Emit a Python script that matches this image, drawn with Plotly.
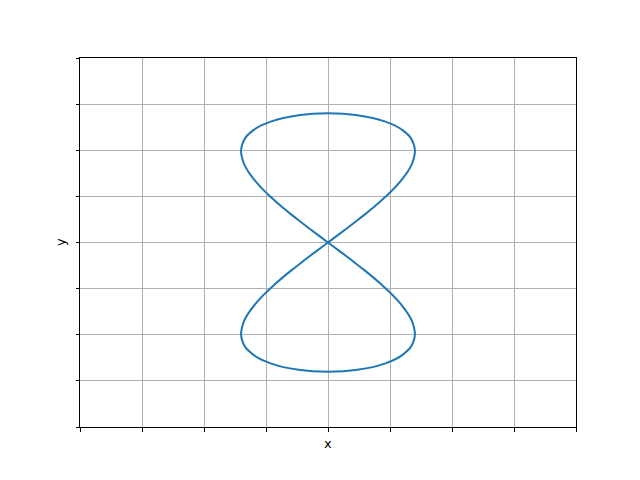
import plotly.graph_objects as go

# points (grid units)
curve_x = [0, 0.479, 0.900, 1.212, 1.379, 1.379, 1.212, 0.900, 0.479,
           0, -0.479, -0.900, -1.212, -1.379, -1.379, -1.212, -0.900, -0.479,
           0, 0.479, 0.900, 1.212, 1.379, 1.379, 1.212, 0.900, 0.479,
           0, -0.479, -0.900, -1.212, -1.379, -1.379, -1.212, -0.900, -0.479, 0]
curve_y = [0, 0.486, 0.958, 1.40, 1.80, 2.145, 2.425, 2.631, 2.757,
           2.80, 2.757, 2.631, 2.425, 2.145, 1.80, 1.40, 0.958, 0.486,
           0, -0.486, -0.958, -1.40, -1.80, -2.145, -2.425, -2.631, -2.757,
           -2.80, -2.757, -2.631, -2.425, -2.145, -1.80, -1.40, -0.958, -0.486, 0]
tick_vals = [-4, -3, -2, -1, 0, 1, 2, 3, 4]

fig = go.Figure()
fig.add_trace(go.Scatter(x=curve_x, y=curve_y, mode="lines",
                         line=dict(color="#1f77b4", width=2, shape="spline", smoothing=1.3),
                         showlegend=False, hoverinfo="skip"))

axis_common = dict(showticklabels=False, ticks="outside", ticklen=3.5, tickwidth=1,
                   tickcolor="black", showline=True, linecolor="black", linewidth=1,
                   mirror=True, showgrid=True, gridcolor="#b0b0b0", gridwidth=1,
                   zeroline=False, tickvals=tick_vals)
fig.update_xaxes(range=[-4, 4], **axis_common)
fig.update_yaxes(range=[-4, 4], **axis_common)

fig.update_layout(
    width=640, height=480,
    margin=dict(l=72, r=72, t=50, b=61),
    paper_bgcolor="white", plot_bgcolor="white",
    font=dict(family="DejaVu Sans", size=13, color="black"),
    annotations=[
        dict(text="x", x=0.5, y=0, xref="paper", yref="paper", xanchor="center",
             yanchor="top", yshift=-7, showarrow=False, font=dict(size=13)),
        dict(text="y", x=0, y=0.5, xref="paper", yref="paper", xanchor="right",
             yanchor="middle", xshift=-10, textangle=-90, showarrow=False, font=dict(size=13)),
    ],
)
fig.write_html("out.html")
